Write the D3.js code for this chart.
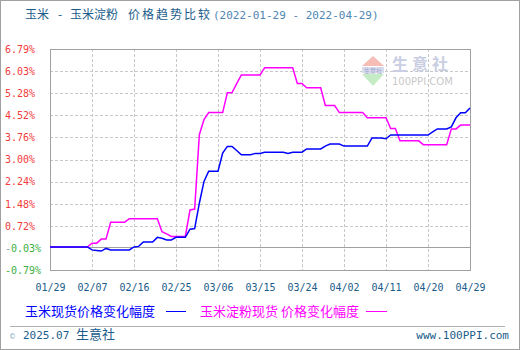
<!DOCTYPE html>
<html>
<head>
<meta charset="utf-8">
<script src="https://cdn.jsdelivr.net/npm/d3@7"></script>
<style>
  body { margin: 0; background: #fff; }
  svg { display: block; }
</style>
</head>
<body>
<div id="chart"></div>
<script>
// daily dates, 2022
const dates = [
  "01-29","01-30","01-31",
  "02-01","02-02","02-03","02-04","02-05","02-06","02-07","02-08","02-09","02-10",
  "02-11","02-12","02-13","02-14","02-15","02-16","02-17","02-18","02-19","02-20",
  "02-21","02-22","02-23","02-24","02-25","02-26","02-27","02-28",
  "03-01","03-02","03-03","03-04","03-05","03-06","03-07","03-08","03-09","03-10",
  "03-11","03-12","03-13","03-14","03-15","03-16","03-17","03-18","03-19","03-20",
  "03-21","03-22","03-23","03-24","03-25","03-26","03-27","03-28","03-29","03-30","03-31",
  "04-01","04-02","04-03","04-04","04-05","04-06","04-07","04-08","04-09","04-10",
  "04-11","04-12","04-13","04-14","04-15","04-16","04-17","04-18","04-19","04-20",
  "04-21","04-22","04-23","04-24","04-25","04-26","04-27","04-28","04-29"
];

// 玉米现货价格变化幅度 (%)
const cornValues = [
  0, 0, 0, 0, 0, 0, 0, 0, 0, -0.10,
  -0.12, -0.14, -0.05, -0.10, -0.10, -0.10, -0.10, -0.10, 0.00, 0.02,
  0.17, 0.17, 0.17, 0.33, 0.30, 0.24, 0.24, 0.33, 0.33, 0.33,
  0.61, 0.63, 1.50, 2.25, 2.60, 2.60, 2.60, 3.22, 3.45, 3.45,
  3.31, 3.16, 3.16, 3.16, 3.21, 3.21, 3.25, 3.25, 3.25, 3.25,
  3.25, 3.21, 3.25, 3.25, 3.25, 3.36, 3.36, 3.36, 3.36, 3.46,
  3.53, 3.53, 3.53, 3.46, 3.46, 3.46, 3.46, 3.46, 3.46, 3.74,
  3.74, 3.74, 3.71, 3.84, 3.84, 3.84, 3.84, 3.84, 3.84, 3.84,
  3.84, 3.84, 3.95, 4.05, 4.05, 4.05, 4.12, 4.43, 4.60, 4.60,
  4.77
];

// 玉米淀粉现货价格变化幅度 (%)
const starchValues = [
  0, 0, 0, 0, 0, 0, 0, 0, 0, 0.13,
  0.13, 0.27, 0.27, 0.85, 0.85, 0.85, 0.85, 0.97, 0.97, 0.97,
  0.97, 0.97, 0.97, 0.97, 0.52, 0.45, 0.36, 0.36, 0.36, 0.36,
  1.27, 1.30, 3.85, 4.37, 4.61, 4.61, 4.61, 4.61, 5.29, 5.29,
  5.60, 5.90, 5.90, 5.90, 5.90, 5.90, 6.15, 6.15, 6.15, 6.15,
  6.15, 6.15, 6.15, 5.61, 5.61, 5.46, 5.46, 5.46, 5.46, 4.85,
  4.85, 4.85, 4.61, 4.61, 4.61, 4.61, 4.61, 4.61, 4.43, 4.43,
  4.43, 4.43, 4.43, 4.06, 4.06, 3.64, 3.64, 3.64, 3.64, 3.64,
  3.51, 3.51, 3.51, 3.51, 3.51, 3.51, 4.05, 4.05, 4.18, 4.18,
  4.18
];

const yTicks = [-0.79, -0.03, 0.72, 1.48, 2.24, 3.00, 3.76, 4.52, 5.28, 6.03, 6.79];
const xTickLabels = ["01/29", "02/07", "02/16", "02/25", "03/06", "03/15", "03/24", "04/02", "04/11", "04/20", "04/29"];

const width = 520;
const height = 350;
const plotLeft = 50, plotRight = 470, plotTop = 49, plotBottom = 270;

const parse = d3.timeParse("%Y-%m-%d");
const toDate = s => parse("2022-" + s.replace("/", "-"));

const x = d3.scaleTime()
  .domain([toDate(dates[0]), toDate(dates[dates.length - 1])])
  .range([plotLeft, plotRight]);

const y = d3.scaleLinear()
  .domain([-0.79, 6.79])
  .range([plotBottom, plotTop]);

const cjk = "'Noto Sans CJK SC', 'Noto Sans', sans-serif";
const mono = "'DejaVu Sans Mono', 'Liberation Mono', monospace";

const svg = d3.select("#chart")
  .append("svg")
  .attr("width", width)
  .attr("height", height);

// outer frame
svg.append("rect")
  .attr("x", 0.5).attr("y", 0.5)
  .attr("width", width - 1).attr("height", height - 1)
  .attr("fill", "#fff")
  .attr("stroke", "#a0a0a0");

// title
const title = svg.append("text")
  .attr("y", 19)
  .attr("font-family", cjk)
  .attr("font-size", 12)
  .attr("fill", "#1b5c8a");
title.append("tspan").attr("x", 25).text("玉米");
title.append("tspan").attr("x", 58).text("-");
title.append("tspan").attr("x", 70).text("玉米淀粉");
title.append("tspan").attr("x", 128).attr("letter-spacing", 2).text("价格趋势比较");

svg.append("text")
  .attr("x", 213).attr("y", 19)
  .attr("font-family", mono)
  .attr("font-size", 11)
  .attr("fill", "#4f86b3")
  .text("(2022-01-29 - 2022-04-29)");

// horizontal grid
svg.append("g")
  .selectAll("line")
  .data(yTicks.filter(v => v > -0.5 && v < 6.7 && v !== -0.03))
  .enter().append("line")
  .attr("x1", plotLeft).attr("x2", plotRight)
  .attr("y1", d => Math.round(y(d)) + 0.5)
  .attr("y2", d => Math.round(y(d)) + 0.5)
  .attr("stroke", "#c8c8c8")
  .attr("stroke-dasharray", "3,2");

// vertical grid
svg.append("g")
  .selectAll("line")
  .data(xTickLabels.slice(1, -1))
  .enter().append("line")
  .attr("x1", d => Math.round(x(toDate(d))) + 0.5)
  .attr("x2", d => Math.round(x(toDate(d))) + 0.5)
  .attr("y1", plotTop).attr("y2", plotBottom)
  .attr("stroke", "#c8c8c8")
  .attr("stroke-dasharray", "3,2");

// watermark
const wm = svg.append("g");
wm.append("path")
  .attr("d", "M373,56 L384,66 L362,66 Z")
  .attr("fill", "#f5bdb6");
wm.append("rect")
  .attr("x", 362).attr("y", 67).attr("width", 22).attr("height", 6)
  .attr("fill", "#d9dcec");
wm.append("text")
  .attr("x", 373).attr("y", 72.5)
  .attr("text-anchor", "middle")
  .attr("font-family", cjk)
  .attr("font-size", 6)
  .attr("fill", "#9ea6cc")
  .text("生意社");
wm.append("path")
  .attr("d", "M362,74 L384,74 L373,86 Z")
  .attr("fill", "#c6ecc6");
wm.append("text")
  .attr("x", 392).attr("y", 70)
  .attr("font-family", cjk)
  .attr("font-size", 16)
  .attr("font-weight", "bold")
  .attr("letter-spacing", 4)
  .attr("fill", "#c9cee2")
  .text("生意社");
wm.append("text")
  .attr("x", 392).attr("y", 85)
  .attr("font-family", "'DejaVu Sans', sans-serif")
  .attr("font-size", 10)
  .attr("fill", "#c8c8c8")
  .text("100PPI.COM");

// frame of the plot
svg.append("rect")
  .attr("x", plotLeft + 0.5).attr("y", plotTop + 0.5)
  .attr("width", plotRight - plotLeft).attr("height", plotBottom - plotTop)
  .attr("fill", "none")
  .attr("stroke", "#a0a0a0");

// zero line
svg.append("line")
  .attr("x1", plotLeft).attr("x2", plotRight)
  .attr("y1", Math.round(y(0)) + 0.5)
  .attr("y2", Math.round(y(0)) + 0.5)
  .attr("stroke", "#a0a0a0");

// y axis labels
const yAxis = svg.append("g")
  .attr("transform", `translate(${plotLeft},0)`)
  .call(d3.axisLeft(y).tickValues(yTicks).tickSize(0).tickFormat(d => d.toFixed(2) + "%"));
yAxis.select(".domain").remove();
yAxis.selectAll("text")
  .attr("x", 5 - plotLeft)
  .attr("text-anchor", "start")
  .attr("font-family", mono)
  .attr("font-size", 10)
  .attr("fill", d => d < 0 ? "#3cb043" : "#f23c3c");
yAxis.selectAll("text")
  .filter(d => d === -0.03)
  .text(null)
  .call(t => t.append("tspan").attr("fill", "#a0a0a0").text("-"))
  .call(t => t.append("tspan").text("0.03%"));

// x axis labels
const xAxis = svg.append("g")
  .attr("transform", `translate(0,${plotBottom})`)
  .call(d3.axisBottom(x).tickValues(xTickLabels.map(toDate)).tickSize(0)
    .tickFormat(d3.timeFormat("%m/%d")));
xAxis.select(".domain").remove();
xAxis.selectAll("text")
  .attr("dy", 0)
  .attr("y", 20.5)
  .attr("font-family", mono)
  .attr("font-size", 10)
  .attr("fill", "#1b5c8a");

// series lines
const line = d3.line()
  .x((d, i) => x(toDate(dates[i])))
  .y(d => y(d));

svg.append("path")
  .datum(starchValues)
  .attr("d", line)
  .attr("fill", "none")
  .attr("stroke", "#ff00ff")
  .attr("stroke-width", 1.5);

svg.append("path")
  .datum(cornValues)
  .attr("d", line)
  .attr("fill", "none")
  .attr("stroke", "#0000ff")
  .attr("stroke-width", 1.5);

// legend
svg.append("text")
  .attr("x", 25).attr("y", 316)
  .attr("font-family", cjk)
  .attr("font-size", 13)
  .attr("fill", "#0000ff")
  .text("玉米现货价格变化幅度");
svg.append("line")
  .attr("x1", 166).attr("x2", 186)
  .attr("y1", 311.5).attr("y2", 311.5)
  .attr("stroke", "#0000ff");
svg.append("text")
  .attr("x", 200).attr("y", 316)
  .attr("font-family", cjk)
  .attr("font-size", 13)
  .attr("fill", "#ff00ff")
  .text("玉米淀粉现货 价格变化幅度");
svg.append("line")
  .attr("x1", 366).attr("x2", 387)
  .attr("y1", 311.5).attr("y2", 311.5)
  .attr("stroke", "#ff00ff");

// footer
svg.append("line")
  .attr("x1", 10).attr("x2", 505)
  .attr("y1", 326.5).attr("y2", 326.5)
  .attr("stroke", "#b0b0b0");
svg.append("text")
  .attr("x", 10).attr("y", 339)
  .attr("font-family", mono)
  .attr("font-size", 11)
  .attr("fill", "#1b5c8a")
  .call(t => t.append("tspan").attr("fill", "#8aa8c0").attr("font-size", 8).text("©"))
  .call(t => t.append("tspan").attr("x", 23).text("2025.07"))
  .call(t => t.append("tspan").attr("x", 76).attr("font-family", cjk).attr("font-size", 13).text("生意社"));
svg.append("text")
  .attr("x", 509).attr("y", 339)
  .attr("text-anchor", "end")
  .attr("font-family", mono)
  .attr("font-size", 11)
  .attr("fill", "#1b5c8a")
  .text("www.100PPI.com");
</script>
</body>
</html>
